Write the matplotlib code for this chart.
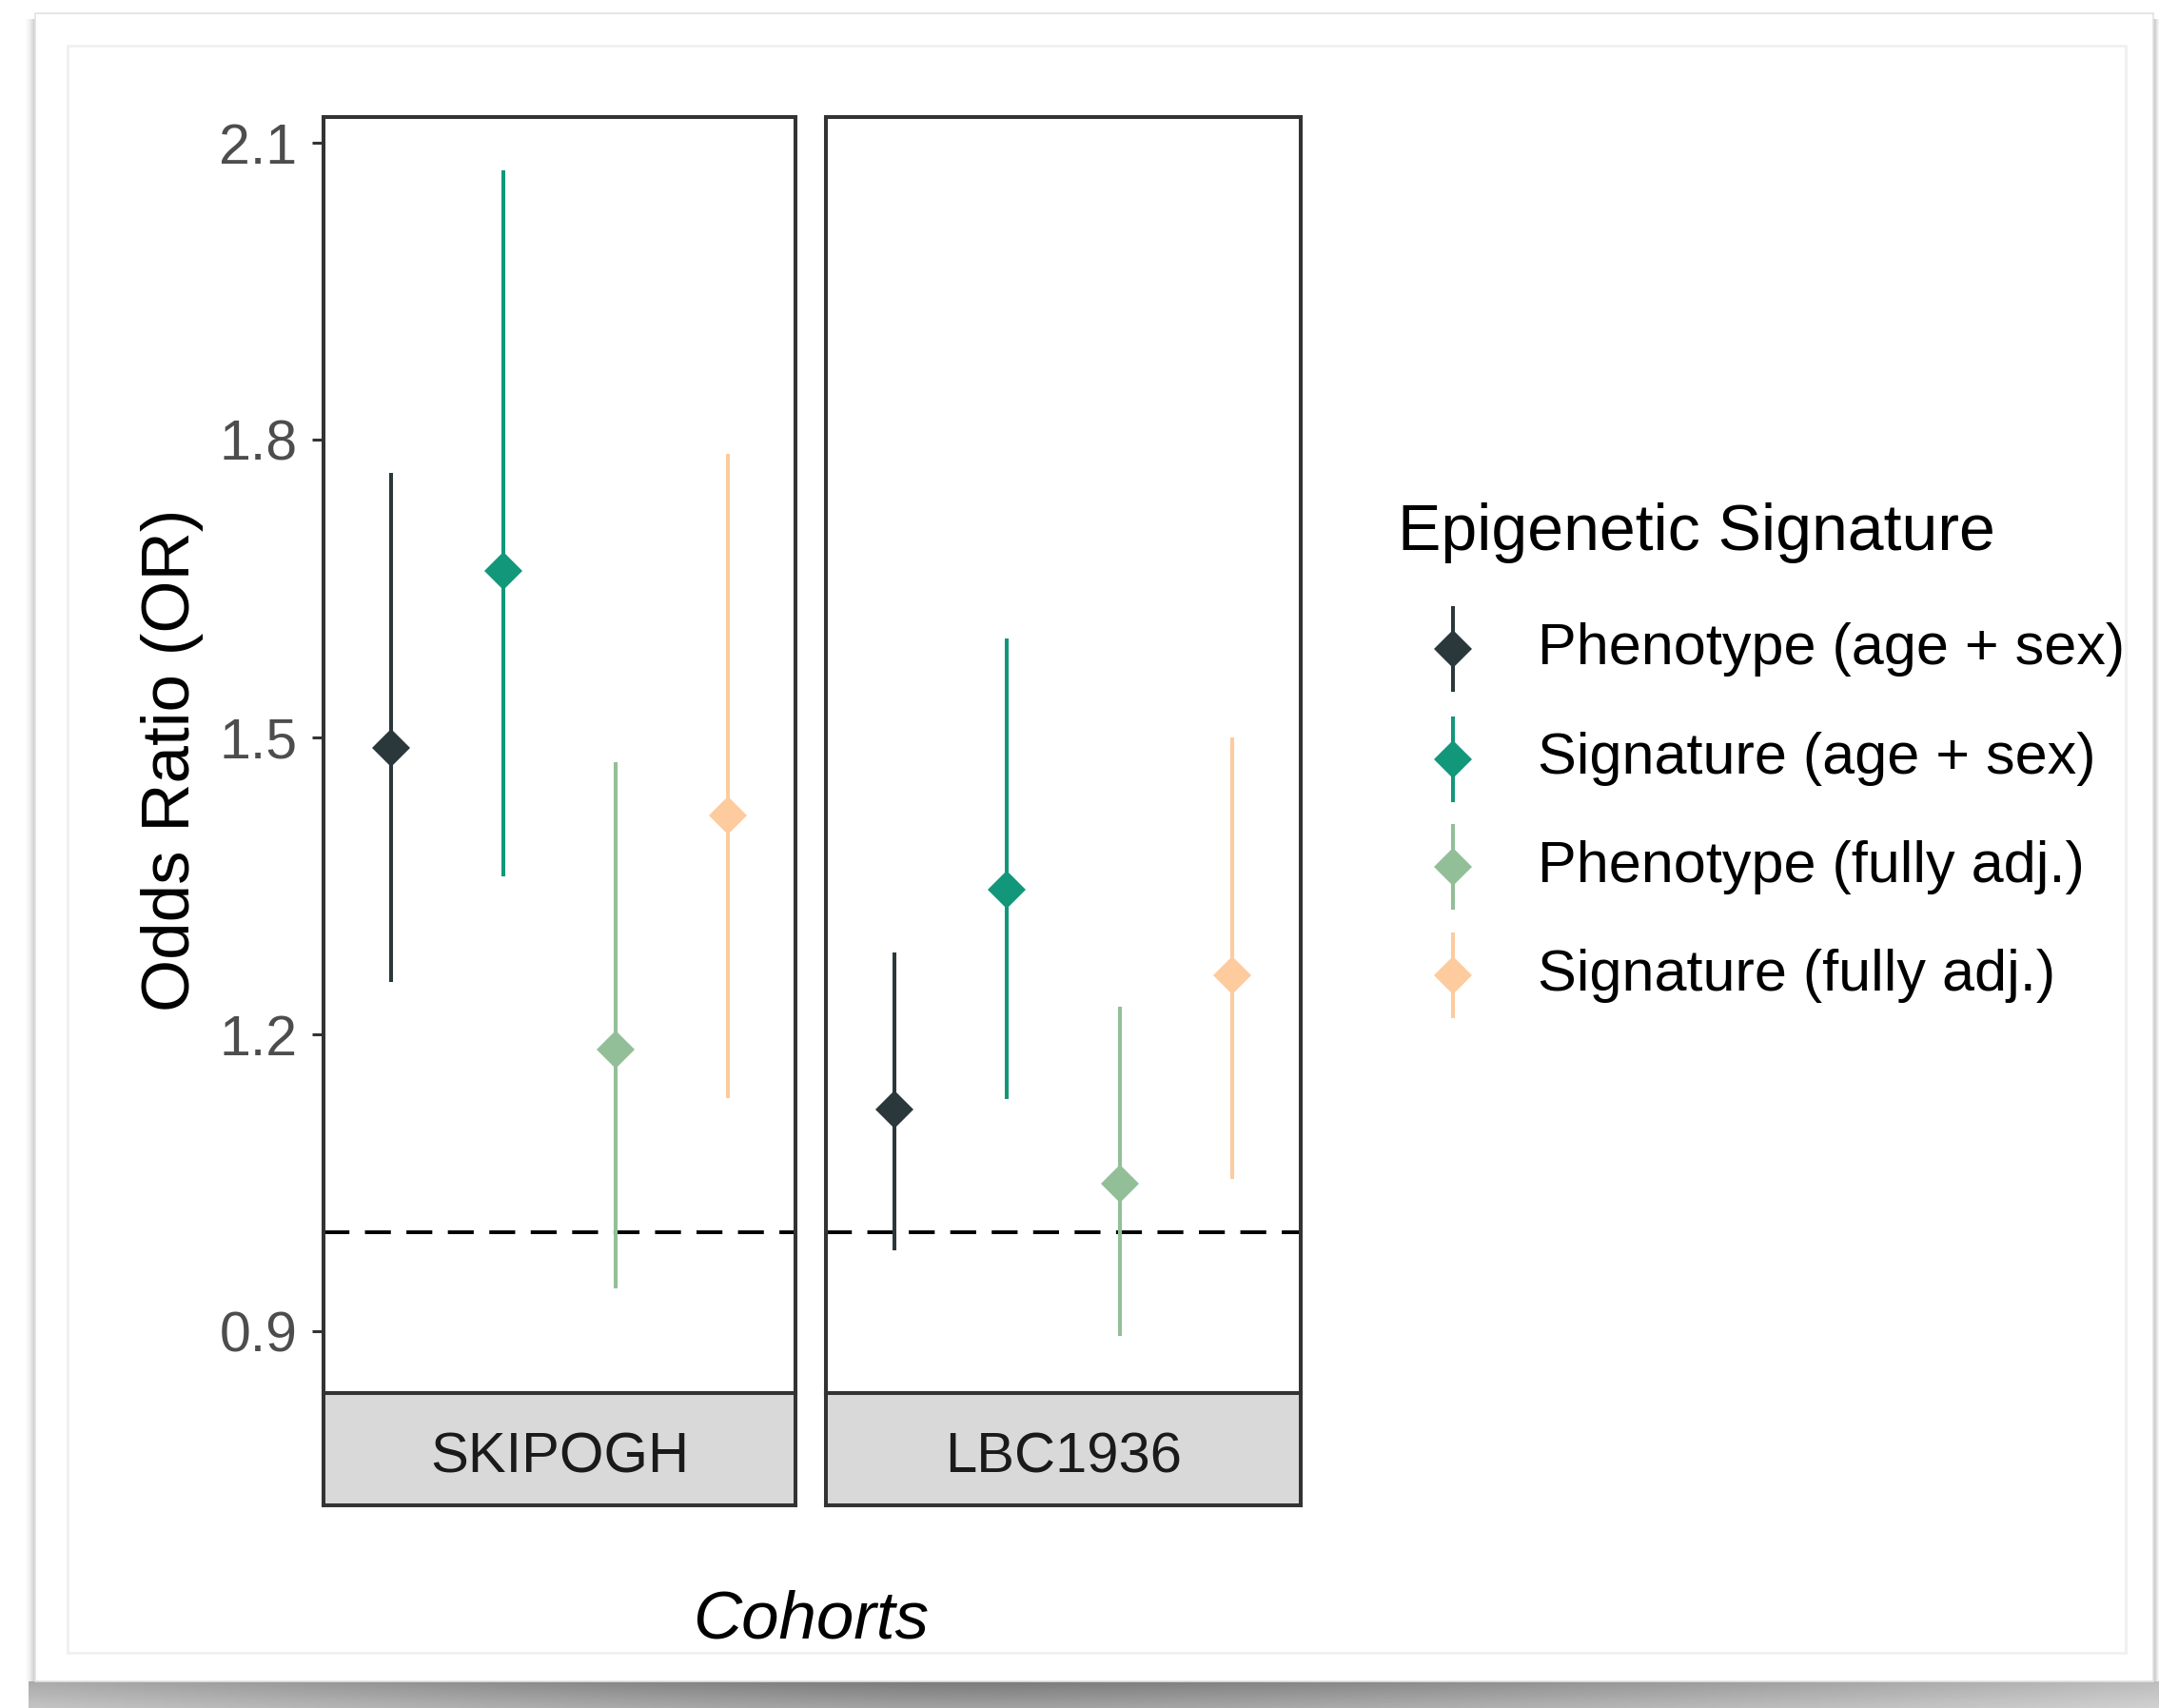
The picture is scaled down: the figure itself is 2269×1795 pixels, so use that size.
import numpy as np
import matplotlib
matplotlib.use("Agg")
import matplotlib.pyplot as plt
from matplotlib.patches import Rectangle
from matplotlib.lines import Line2D

# -----------------------------
# DATA
# -----------------------------
cohorts = ["SKIPOGH", "LBC1936"]
signatures = ["Phenotype (age + sex)", "Signature (age + sex)",
              "Phenotype (fully adj.)", "Signature (fully adj.)"]

or_skipogh = [1.489, 1.668, 1.185, 1.421]
lo_skipogh = [1.253, 1.360, 0.944, 1.136]
hi_skipogh = [1.767, 2.072, 1.475, 1.786]

or_lbc = [1.124, 1.346, 1.049, 1.260]
lo_lbc = [0.982, 1.135, 0.896, 1.054]
hi_lbc = [1.283, 1.600, 1.228, 1.500]

y_ticks = [0.9, 1.2, 1.5, 1.8, 2.1]
ref_line = 1.0

colors = ["#2B383B", "#12977A", "#93BF98", "#FDCB9E"]

# -----------------------------
# STYLE
# -----------------------------
W, H = 2269, 1795
plt.rcParams["font.family"] = ["Liberation Sans", "DejaVu Sans"]
DARK = "#333333"
TICK_GREY = "#4D4D4D"

fig = plt.figure(figsize=(W / 100, H / 100), dpi=100)
fig.patch.set_facecolor("white")

def px(x0, y0, x1, y1):
    # pixel box (top-left origin) -> figure fraction rect
    return [x0 / W, 1 - y1 / H, (x1 - x0) / W, (y1 - y0) / H]

# -----------------------------
# BACKGROUND CARD + SHADOW
# -----------------------------
bg = fig.add_axes([0, 0, 1, 1], zorder=-5)
bg.set_xlim(0, W)
bg.set_ylim(H, 0)
bg.axis("off")

shade = np.ones((H, W))
xs = np.arange(W)
# bottom curl shadow, darker toward the middle
mid = 0.48 + 0.26 * np.abs((xs - W * 0.45) / (W * 0.55)) ** 1.4
mid = np.clip(mid, 0.46, 0.78)
for j, y in enumerate(range(1767, H)):
    t = j / (H - 1767)
    shade[y, 30:] = mid[30:] + (1 - mid[30:]) * 0.3 * t
# left and right soft edges
for k, x in enumerate(range(24, 37)):
    shade[20:1767, x] = 1 - 0.25 * (k / 13) ** 2
for k, x in enumerate(range(2263, W)):
    shade[20:1767, x] = 0.76 + 0.04 * k
bg.imshow(shade, cmap="gray", vmin=0, vmax=1, extent=(0, W, H, 0),
          interpolation="bilinear", aspect="auto")
bg.add_patch(Rectangle((37, 14), 2226, 1753, facecolor="white",
                       edgecolor="#E2E2E2", lw=1.2))
bg.add_patch(Rectangle((71, 48), 2163, 1689, facecolor="none",
                       edgecolor="#F0F0F0", lw=2))

# -----------------------------
# PANELS
# -----------------------------
panel_boxes = [(340, 836), (868, 1367)]
top, bottom, strip_bottom = 123, 1464, 1582
ylim = (0.838, 2.126)
dodge = 0.285

series = [(or_skipogh, lo_skipogh, hi_skipogh), (or_lbc, lo_lbc, hi_lbc)]

for p, (name, (x0, x1), (ors, los, his)) in enumerate(zip(cohorts, panel_boxes, series)):
    ax = fig.add_axes(px(x0, top, x1, bottom))
    ax.set_xlim(-0.6, 0.6)
    ax.set_ylim(*ylim)
    ax.axhline(ref_line, color="black", lw=2.8, linestyle=(0, (7, 4.2)), zorder=1)
    for i in range(len(signatures)):
        xpos = (i - 1.5) * dodge
        ax.errorbar([xpos], [ors[i]],
                    yerr=[[ors[i] - los[i]], [his[i] - ors[i]]],
                    fmt="D", color=colors[i], ms=20.5, mew=0,
                    elinewidth=2.9, capsize=0, zorder=3)
    ax.set_xticks([])
    for s in ax.spines.values():
        s.set_color(DARK)
        s.set_linewidth(2.9)
    if p == 0:
        ax.set_yticks(y_ticks)
        ax.set_yticklabels([f"{v:.1f}" for v in y_ticks])
        ax.tick_params(axis="y", length=9, width=2.2, color=DARK,
                       labelsize=42.5, labelcolor=TICK_GREY, pad=11)
    else:
        ax.set_yticks([])

    sax = fig.add_axes(px(x0, bottom, x1, strip_bottom))
    sax.set_facecolor("#D9D9D9")
    sax.set_xticks([])
    sax.set_yticks([])
    for s in sax.spines.values():
        s.set_color(DARK)
        s.set_linewidth(2.9)
    sax.text(0.5, 0.42, name, transform=sax.transAxes, ha="center",
             va="center", fontsize=43, color="#1A1A1A")

# axis titles
fig.text(181 / W, 1 - 799 / H, "Odds Ratio (OR)", rotation=90,
         ha="center", va="center", fontsize=51, color="black")
fig.text(852 / W, 1 - 1703 / H, "Cohorts", style="italic",
         ha="center", va="center", fontsize=51, color="black")

# -----------------------------
# LEGEND (drawn by hand)
# -----------------------------
fig.text(1469 / W, 1 - 560 / H, "Epigenetic Signature", ha="left",
         va="center", fontsize=49, color="black")
key_x = 1527
key_y = [682, 798, 911, 1025]
for i, lab in enumerate(signatures):
    y = key_y[i]
    fig.add_artist(Line2D([key_x / W, key_x / W],
                          [1 - (y - 43) / H, 1 - (y + 43) / H],
                          color=colors[i], lw=2.9))
    fig.add_artist(Line2D([key_x / W], [1 - y / H], marker="D", ms=20.5,
                          mew=0, color=colors[i], linestyle="none"))
    fig.text(1616 / W, 1 - y / H, lab, ha="left", va="center",
             fontsize=44, color="black")

fig.savefig("out.png", dpi=100, facecolor="white")
